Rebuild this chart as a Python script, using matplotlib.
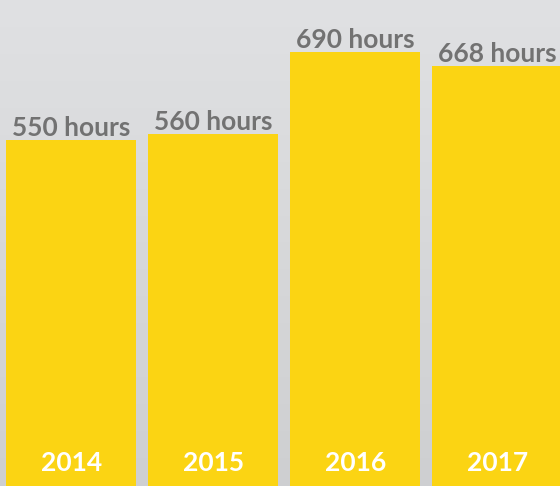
import matplotlib
matplotlib.use("Agg")
import matplotlib.pyplot as plt
import numpy as np

years = ["2014", "2015", "2016", "2017"]
hours = [550, 560, 690, 668]
value_labels = ["550 hours", "560 hours", "690 hours", "668 hours"]

fig = plt.figure(figsize=(5.6, 4.86), dpi=100)
ax = fig.add_axes([0, 0, 1, 1])
ax.set_xlim(-0.5, 3.44)
ax.set_ylim(0, 773)

# background gradient
top = np.array([0xe0, 0xe1, 0xe3]) / 255
bot = np.array([0xce, 0xcf, 0xd1]) / 255
t = np.linspace(0, 1, 256)[:, None]
grad = (top * (1 - t) + bot * t)[:, None, :]
ax.imshow(grad, extent=[-0.5, 3.44, 0, 773], aspect="auto", zorder=0, origin="upper")

x = np.arange(len(years))
ax.bar(x, hours, width=0.915, color="#fbd413", zorder=2)

for xi, h, lab, yr in zip(x, hours, value_labels, years):
    ax.text(xi, h + 6, lab, ha="center", va="baseline", fontsize=19,
            fontfamily="Lato", fontweight="bold", color="#727272", zorder=3)
    ax.text(xi, 24, yr, ha="center", va="baseline", fontsize=19,
            fontfamily="Lato", fontweight="bold", color="white", zorder=3)

ax.axis("off")
fig.savefig("out.png", dpi=100)
